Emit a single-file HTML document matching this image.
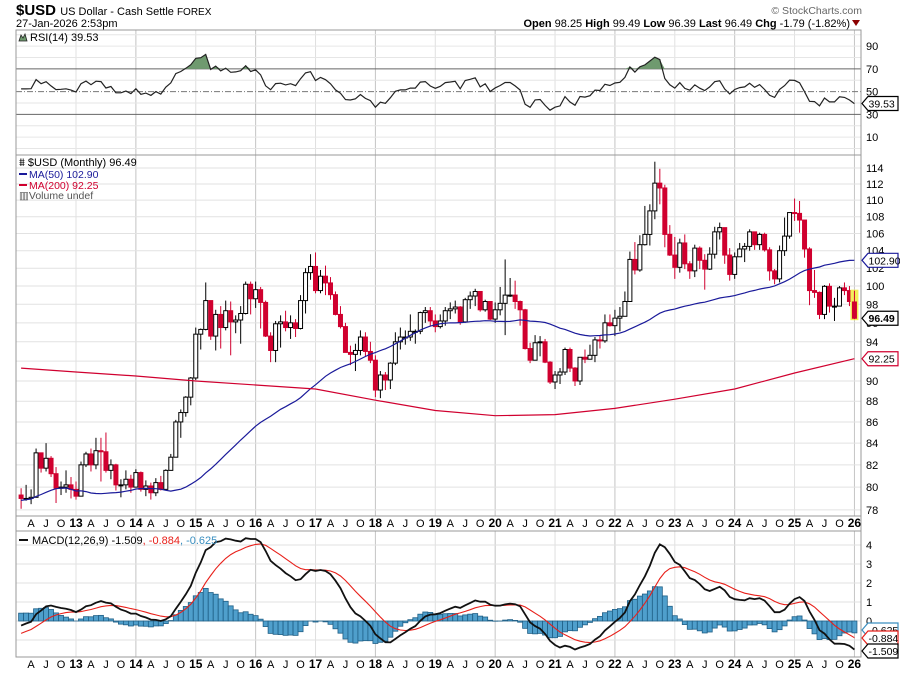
<!DOCTYPE html>
<html><head><meta charset="utf-8"><style>
body{margin:0;background:#fff;width:900px;height:673px;overflow:hidden;font-family:"Liberation Sans",sans-serif}
svg{display:block}
text{font-family:"Liberation Sans",sans-serif}
</style></head><body>
<svg id="chart" width="900" height="673" viewBox="0 0 900 673" xmlns="http://www.w3.org/2000/svg">
<g>
<text x="16" y="15" font-size="15" font-weight="bold">$USD <tspan font-size="11" font-weight="normal">US Dollar - Cash Settle </tspan><tspan font-size="10" font-weight="normal">FOREX</tspan></text>
<text x="16" y="27" font-size="11">27-Jan-2026 2:53pm</text>
<text x="862" y="14" font-size="10.5" fill="#666" text-anchor="end">© StockCharts.com</text>
<text x="850" y="27" font-size="11" text-anchor="end"><tspan font-weight="bold">Open</tspan> 98.25  <tspan font-weight="bold">High</tspan> 99.49  <tspan font-weight="bold">Low</tspan> 96.39  <tspan font-weight="bold">Last</tspan> 96.49  <tspan font-weight="bold">Chg</tspan> -1.79 (-1.82%)</text>
<polygon points="852,20 860,20 856,26" fill="#8b0000"/>
</g>
<g id="grid"></g>
<g id="marks"></g>
<g id="overlay"></g>
</svg>
<script>
const pre = [75.8,76.0,71.8,73.4,72.7,72.4,73.1,77.4,79.4,85.6,86.7,81.3,
86.3,88.5,85.3,84.3,79.6,80.3,78.6,78.4,76.7,76.3,75.0,77.9,
79.5,80.3,81.0,81.8,86.5,86.0,81.7,83.1,78.9,77.3,81.2,79.0,
77.6,76.9,75.9,73.0,74.6,74.3,74.0,74.3,78.6,76.2,78.4,80.2,79.3];
const closes = [79.0,79.0,79.1,83.1,81.7,82.6,81.2,79.9,80.0,80.2,79.8,
79.2,82.0,83.0,82.0,83.3,83.2,81.5,82.0,80.2,80.2,80.7,80.0,
81.3,79.8,80.1,79.5,80.4,79.8,81.5,82.7,86.0,86.9,88.4,90.3,
94.8,95.3,98.4,94.6,96.9,95.5,97.3,96.1,96.3,97.0,100.2,98.6,
99.6,98.2,94.6,93.1,95.9,96.1,95.5,96.0,95.4,98.4,101.5,102.2,
99.5,101.1,100.35,99.05,96.9,95.6,92.9,92.7,93.1,94.5,93.0,92.1,
89.1,90.6,90.1,91.8,94.0,94.5,94.5,95.1,95.1,97.1,97.3,96.2,
95.6,96.2,97.3,97.5,97.7,96.1,98.5,98.9,99.4,97.4,98.3,96.4,
97.4,98.1,99.0,99.0,98.3,97.4,93.3,92.1,93.9,94.0,91.9,89.9,
90.6,90.9,93.2,91.3,90.0,92.4,92.2,92.6,94.2,94.1,96.0,95.7,
96.5,96.7,98.3,103.0,101.8,104.7,105.9,108.7,112.1,111.5,105.9,103.5,
102.1,104.9,102.5,101.7,104.3,102.9,101.9,103.6,106.2,106.7,103.5,101.3,
103.3,104.2,104.5,106.2,104.7,105.9,104.1,101.7,100.8,104.0,105.7,108.5,
108.4,107.6,104.2,99.5,99.3,96.9,99.97,97.8,97.8,99.8,99.5,98.3,
96.49];
const highs = [79.9,80.2,79.8,83.5,83.0,84.0,82.8,81.8,80.5,81.5,80.9,
80.5,82.3,83.2,83.5,84.5,84.5,85.0,82.5,82.1,80.7,81.5,81.1,
81.6,81.4,80.6,80.4,80.8,81.0,81.6,83.0,86.2,87.2,88.5,90.4,
95.5,95.4,100.4,98.0,97.4,97.8,98.4,98.3,96.8,97.8,100.5,100.5,
100.5,99.9,98.4,95.0,96.2,96.8,97.3,96.8,96.4,99.0,102.0,103.6,
103.8,101.8,102.3,101.0,99.4,97.8,96.0,93.6,93.8,95.2,95.0,94.0,
92.6,91.0,90.9,91.9,95.0,95.5,95.2,96.9,95.3,97.2,97.7,97.7,
96.9,96.9,97.7,98.2,98.4,97.8,98.7,99.4,99.7,99.4,98.5,98.3,
98.2,99.9,103.0,100.9,100.6,98.4,97.5,93.9,94.7,94.6,94.3,92.0,
91.0,91.3,93.4,93.4,91.4,92.4,93.2,93.7,94.5,94.6,96.9,96.9,
97.4,97.7,99.4,103.9,105.0,105.8,109.3,109.5,114.8,113.9,111.9,107.0,
105.6,105.4,105.9,102.8,104.7,104.5,103.6,104.4,106.8,107.3,106.6,104.3,
103.8,104.9,104.9,106.5,105.7,106.1,106.1,104.4,101.9,104.6,107.9,108.5,
110.2,109.9,107.6,104.4,101.8,99.4,100.1,100.3,98.7,100.0,100.4,100.0,
99.49];
const lows = [78.1,78.8,78.5,79.1,81.3,81.4,80.9,78.6,79.3,79.5,79.0,
78.9,79.3,81.8,81.4,81.6,80.5,81.3,80.7,79.7,79.1,79.8,79.5,
80.0,79.6,79.2,78.9,79.2,79.7,80.2,81.5,82.7,84.5,86.5,87.6,
90.1,93.2,95.2,94.2,93.1,93.3,95.2,92.6,94.9,93.8,96.9,96.9,
97.6,95.4,94.5,91.9,91.9,93.4,95.1,94.3,94.5,95.3,97.0,100.7,
99.2,99.2,99.0,98.5,96.8,95.4,92.9,91.6,91.0,92.6,92.5,91.8,
88.4,88.3,89.1,89.2,91.6,93.2,93.7,94.1,93.8,94.8,96.0,95.6,
95.0,95.4,95.7,96.4,97.0,95.8,96.0,97.5,97.8,97.2,97.2,96.3,
96.0,96.8,94.7,98.8,97.5,95.7,93.2,91.8,92.2,92.5,91.8,89.7,
89.2,89.7,90.6,90.9,89.5,89.6,91.8,92.2,91.9,93.3,93.9,95.6,
94.6,95.1,97.7,98.3,101.3,101.6,104.6,104.6,107.7,109.5,104.4,103.4,
100.8,101.5,101.9,100.8,101.0,101.9,99.6,101.8,103.1,105.3,102.5,100.6,
100.8,103.3,102.7,104.0,104.1,104.1,103.9,100.6,100.2,100.4,103.4,105.4,
107.5,106.1,103.2,97.9,98.7,96.4,96.4,97.1,96.2,98.0,99.0,97.8,
96.39];
const lastOpen = 98.25;
const ma200Years = [2012,2013,2014,2015,2016,2017,2018,2019,2020,2021,2022,2023,2024,2025,2026];
const ma200Vals = [91.3,90.9,90.5,90.0,89.6,89.2,88.1,87.1,86.6,86.7,87.3,88.2,89.2,90.8,92.25];
const priceTicks = [78,80,82,84,86,88,90,92,94,96,98,100,102,104,106,108,110,112,114];
const rsiTicks = [90,70,50,30,10];
const macdTicks = [4,3,2,1,0];
const firstMonthIdx = -11;

const NS = "http://www.w3.org/2000/svg";
const L = 16, R = 861;
function xM(i){ return 76 + i*4.99; }
function yP(p){ return 168 + 901*Math.log(114/p); }
function yR(v){ return 148.5 - 1.1375*v; }
function yM(v){ return 621 - 19*v; }
function el(tag, attrs, parent){ const e=document.createElementNS(NS,tag); for(const k in attrs) e.setAttribute(k,attrs[k]); parent.appendChild(e); return e; }
const grid=document.getElementById('grid'), marks=document.getElementById('marks'), ov=document.getElementById('overlay');

[[30,155],[155,516],[531,657]].forEach(([t,b],k)=>{
  const r=el('rect',{x:L,y:t,width:R-L,height:b-t,fill:'none',stroke:'#999','stroke-width':1},ov);
  
  
});
el('line',{x1:L,y1:516,x2:L,y2:531,stroke:'#999'},ov);
el('line',{x1:R,y1:516,x2:R,y2:531,stroke:'#999'},ov);

for(let yr=2013; yr<=2026; yr++){
  const x=xM((yr-2013)*12);
  const c = yr%2===0 ? '#c4c4c4' : '#e0e0e0';
  [[30,155],[155,516],[531,657]].forEach(([t,b])=>{
    const g=el('line',{x1:x,y1:t,x2:x,y2:b,stroke:c,'stroke-width':1},grid);
    
    
  });
}
for(let v=0; v<=100; v+=10){ if(v===70||v===30||v===50) continue; el('line',{x1:L,y1:yR(v),x2:R,y2:yR(v),stroke:'#e6e6e6'},grid); }
el('line',{x1:L,y1:yR(70),x2:R,y2:yR(70),stroke:'#666'},grid);
el('line',{x1:L,y1:yR(30),x2:R,y2:yR(30),stroke:'#666'},grid);
el('line',{x1:L,y1:yR(50),x2:R,y2:yR(50),stroke:'#777','stroke-dasharray':'6,2,1,2'},grid);
rsiTicks.forEach(v=>{ const t=el('text',{x:866,y:yR(v)+4,'font-size':11},ov); t.textContent=v;
    });
priceTicks.forEach(p=>{ const y=yP(p);
  el('line',{x1:L,y1:y,x2:R,y2:y,stroke:'#e2e2e2'},grid);
  const t=el('text',{x:866,y:y+4,'font-size':11},ov); t.textContent=p;
    });
for(let v=-1; v<=4; v++){ el('line',{x1:L,y1:yM(v),x2:R,y2:yM(v),stroke:'#e2e2e2'},grid); }
macdTicks.forEach(v=>{ const t=el('text',{x:866,y:yM(v)+4,'font-size':11},ov); t.textContent=v;
    });

const mL={3:'A',6:'J',9:'O'};
for(let i=firstMonthIdx; i<=156; i++){
  const m=((i%12)+12)%12;
  let s=null, bold=false;
  if(m===0){ s=String(13+i/12); bold=true; } else if(mL[m]) s=mL[m];
  if(!s) continue;
  [527,668].forEach(yy=>{
    const t=el('text',{x:xM(i),y:yy,'font-size':bold?12:11,'font-weight':bold?'bold':'normal','text-anchor':'middle'},ov);
    t.textContent=s;
     
  });
}

const n=closes.length;
const opens=closes.map((c,i)=> i===n-1 ? lastOpen : (i===0 ? pre[pre.length-1] : closes[i-1]));
for(let i=0;i<n;i++){
  const x=xM(firstMonthIdx+i), o=opens[i], c=closes[i];
  const up=c>=o, col=up?'#000':'#d0002f';
  const top=yP(Math.max(o,c)), bot=yP(Math.min(o,c));
  if(i===n-1){ const hl=el('rect',{x:x-4,y:yP(highs[i])-1,width:8,height:yP(lows[i])-yP(highs[i])+2,fill:'#f2ee5a'},marks);
      }
  const w=el('line',{x1:x,y1:yP(highs[i]),x2:x,y2:yP(lows[i]),stroke:col,'stroke-width':1},marks);
   
  const b=el('rect',{x:x-2,y:top,width:4,height:Math.max(bot-top,1),fill:up?'#fff':'#d0002f',stroke:col,'stroke-width':1},marks);
   
}

const all=pre.concat(closes), P=pre.length;
function ema(arr,k){ const a=2/(k+1); const out=[]; arr.forEach((v,i)=>out.push(i===0?v:a*v+(1-a)*out[i-1])); return out; }
let d=''; for(let i=0;i<n;i++){ const j=P+i; const s=all.slice(Math.max(0,j-49),j+1); const m=s.reduce((a,b)=>a+b,0)/s.length; d+=(i?'L':'M')+xM(firstMonthIdx+i).toFixed(1)+','+yP(m).toFixed(1); }
let ma50=el('path',{d:d,fill:'none',stroke:'#1a1a9a','stroke-width':1.2},marks);
 
d=''; ma200Years.forEach((yr,k)=>{ const i = k===0 ? firstMonthIdx : (yr-2013)*12; d+=(k?'L':'M')+xM(i).toFixed(1)+','+yP(ma200Vals[k]).toFixed(1); });
let ma2=el('path',{d:d,fill:'none',stroke:'#d0002f','stroke-width':1.2},marks);
 
let ag=0,al=0; const rsi=[];
for(let j=1;j<all.length;j++){ const ch=all[j]-all[j-1]; const g=Math.max(ch,0), l=Math.max(-ch,0);
  if(j<=14){ ag+=g/14; al+=l/14; } else { ag=(ag*13+g)/14; al=(al*13+l)/14; }
  rsi[j]= al===0?100:100-100/(1+ag/al); }
let pts=[]; for(let i=0;i<n;i++){ pts.push([xM(firstMonthIdx+i), yR(rsi[P+i])]); }
let fillD=''; pts.forEach((p,i)=>{ fillD+=(i?'L':'M')+p[0].toFixed(1)+','+Math.min(p[1],yR(70)).toFixed(1); });
fillD+='L'+pts[n-1][0]+','+yR(70)+'L'+pts[0][0]+','+yR(70)+'Z';
const rf=el('path',{d:fillD,fill:'#6f9a6f'},marks);  
const rl=el('path',{d:pts.map((p,i)=>(i?'L':'M')+p[0].toFixed(1)+','+p[1].toFixed(1)).join(''),fill:'none',stroke:'#222','stroke-width':1.2},marks);
 
const e12=ema(all,12), e26=ema(all,26); const macd=all.map((v,i)=>e12[i]-e26[i]); const sig=ema(macd,9);
for(let i=0;i<n;i++){ const h=macd[P+i]-sig[P+i]; const x=xM(firstMonthIdx+i);
  const r=el('rect',{x:x-2.5,y:Math.min(yM(0),yM(h)),width:5,height:Math.abs(yM(h)-yM(0)),fill:'#4f9fcc',stroke:'#1f5f86','stroke-width':0.8},marks);
    }
function line(vals,col,w,name){ let dd=''; for(let i=0;i<n;i++) dd+=(i?'L':'M')+xM(firstMonthIdx+i).toFixed(1)+','+yM(vals[P+i]).toFixed(1);
  const p=el('path',{d:dd,fill:'none',stroke:col,'stroke-width':w},marks);   }
line(sig,'#e8201a',1.1,'macd-signal-line');
line(macd,'#111',1.8,'macd-line');

function txt(x,y,s,attrs,name){ const t=el('text',Object.assign({x:x,y:y,'font-size':11},attrs||{}),ov); t.textContent=s;   return t; }
el('path',{d:'M19,41 L21,35 L23,38 L25,34 L27,41 Z',fill:'#6f9a6f',stroke:'#222','stroke-width':0.8},ov);
txt(30,41,'RSI(14) 39.53',{},'rsi-legend');
txt(19,166,'⩩ $USD (Monthly) 96.49',{},'price-legend');
el('line',{x1:19,y1:174,x2:27,y2:174,stroke:'#1a1a9a','stroke-width':2},ov);
txt(29,178,'MA(50) 102.90',{fill:'#1a1a9a','font-size':10.5},'ma50-legend');
el('line',{x1:19,y1:185,x2:27,y2:185,stroke:'#d0002f','stroke-width':2},ov);
txt(29,189,'MA(200) 92.25',{fill:'#d0002f','font-size':10.5},'ma200-legend');
txt(19,199,'▥Volume undef',{fill:'#555','font-size':10.5},'volume-legend');
el('line',{x1:19,y1:540,x2:28,y2:540,stroke:'#111','stroke-width':2},ov);
const ml=txt(32,544,'MACD(12,26,9) -1.509',{},'macd-legend');
const t1=el('tspan',{fill:'#e8201a'},ml); t1.textContent=', -0.884';
const t2=el('tspan',{fill:'#3a8fc0'},ml); t2.textContent=', -0.625';

function tag(y,s,col,bold,name){ const g=el('g',{},ov);  
  el('polygon',{points:`862,${y} 868,${y-7} 898,${y-7} 898,${y+7} 868,${y+7}`,fill:'#fff',stroke:col,'stroke-width':1.2},g);
  const t=el('text',{x:868.5,y:y+4,'font-size':10.5,'font-weight':bold?'bold':'normal'},g); t.textContent=s; }
tag(yR(39.53),'39.53','#000',false,'rsi-value-tag');
tag(yP(102.9),'102.90','#1a1a9a',false,'ma50-value-tag');
tag(yP(92.25),'92.25','#d0002f',false,'ma200-value-tag');
tag(yP(96.49),'96.49','#000',true,'last-price-tag');
tag(630,'-0.625','#3a8fc0',false,'histogram-value-tag');
tag(638,'-0.884','#e8201a',false,'signal-value-tag');
tag(651,'-1.509','#000',false,'macd-value-tag');
</script>
</body></html>
